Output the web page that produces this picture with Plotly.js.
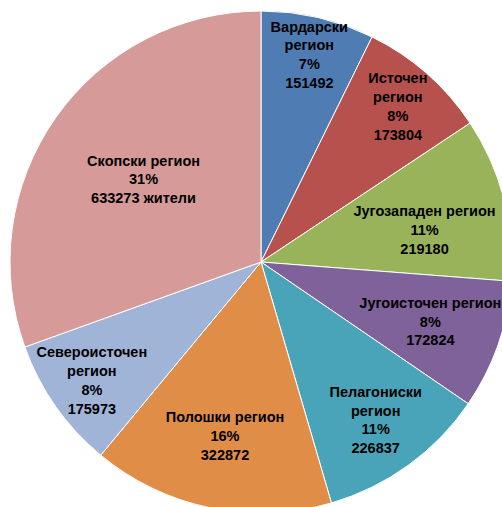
<!DOCTYPE html>
<html>
<head>
<meta charset="utf-8">
<script src="https://cdn.plot.ly/plotly-3.0.1.min.js"></script>
<style>
html,body{margin:0;padding:0;overflow:hidden;background:#fff;width:502px;height:507px;}
#chart{width:522px;height:524px;}
</style>
</head>
<body>
<div id="chart"></div>
<script>
const regions = ["Вардарски регион","Источен регион","Југозападен регион","Југоисточен регион","Пелагониски регион","Полошки регион","Североисточен регион","Скопски регион"];
const labelLines = ["Вардарски<br>регион","Источен<br>регион","Југозападен регион","Југоисточен регион","Пелагониски<br>регион","Полошки регион","Североисточен<br>регион","Скопски регион"];
const population = [151492,173804,219180,172824,226837,322872,175973,633273];
const suffixes = ["","","","","","",""," жители"];
const colors = ["#4F7DB3","#B7514E","#98B35A","#7E6299","#4AA4B9","#E08E47","#A0B4D8","#D69A99"];
// label ring for each slice's text: 0 = outer ring, 1 = inner ring, 2 = inner ring turned slightly
const labelRingOf = [0,0,2,1,0,0,0,0];

// pie geometry in page pixels
const W = 522, H = 524, CX = 261, CY = 262, R = 251;
function dom(k){
  const r = R*k;
  return {x: [Math.max(0,(CX-r)/W), Math.min(1,(CX+r)/W)], y: [Math.max(0,1-(CY+r)/H), Math.min(1,1-(CY-r)/H)]};
}
const fullTemplate = "%{customdata[0]}<br>%{percent:.0%}<br>%{value:d}%{customdata[1]}";

const slices = {
  type: "pie",
  labels: regions,
  values: population,
  sort: false,
  direction: "clockwise",
  rotation: 0,
  textinfo: "none",
  marker: {colors: colors, line: {color: "#ffffff", width: 1}},
  hoverinfo: "label+value+percent",
  domain: dom(1)
};

function labelRing(ring, k, rot){
  return {
    type: "pie",
    labels: regions,
    values: population,
    sort: false,
    direction: "clockwise",
    rotation: rot,
    customdata: labelLines.map((l,i)=>[l, suffixes[i]]),
    texttemplate: labelRingOf.map(v => v === ring ? fullTemplate : " "),
    textposition: "inside",
    insidetextorientation: "horizontal",
    textfont: {family: "Arial, Liberation Sans, sans-serif", size: 14.5, color: "#000", weight: "bold"},
    marker: {colors: colors.map(()=> "rgba(0,0,0,0)"), line: {width: 0}},
    hoverinfo: "skip",
    domain: dom(k)
  };
}

const layout = {
  width: W, height: H,
  margin: {l:0, r:0, t:0, b:0},
  showlegend: false,
  paper_bgcolor: "#fff",
  uniformtext: {mode: "show", minsize: 14.5}
};
Plotly.newPlot("chart", [slices, labelRing(0, 1.04, 0), labelRing(1, 0.9, 0), labelRing(2, 0.88, 3.5)], layout, {displayModeBar: false, staticPlot: true});
</script>
</body>
</html>
